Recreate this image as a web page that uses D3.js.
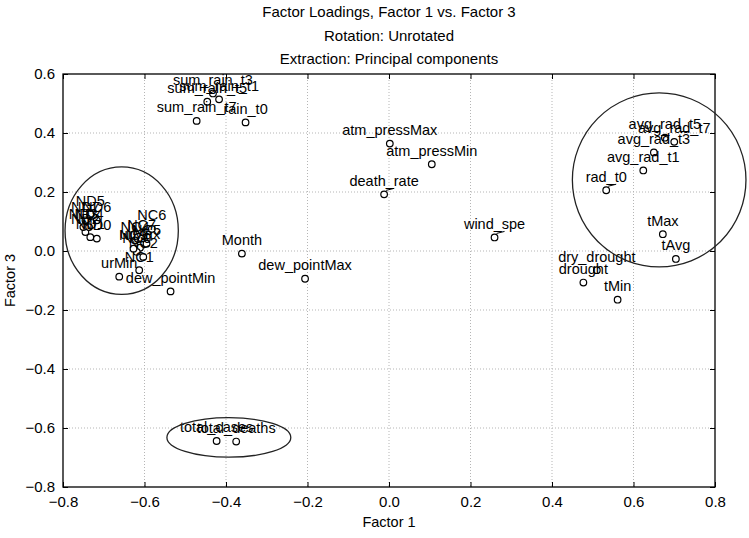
<!DOCTYPE html>
<html><head><meta charset="utf-8">
<script src="https://cdn.jsdelivr.net/npm/d3@7/dist/d3.min.js"></script>
<style>
body{margin:0;background:#fff}
text{font-family:"Liberation Sans",Arial,sans-serif;fill:#000}
</style>
</head><body>
<svg id="chart" width="749" height="538"></svg>
<script>
// ---- data ----
const titleLines = ["Factor Loadings, Factor 1 vs. Factor 3", "Rotation: Unrotated", "Extraction: Principal components"];
const xLabel = "Factor 1";
const yLabel = "Factor 3";
const xTicks = [-0.8, -0.6, -0.4, -0.2, 0.0, 0.2, 0.4, 0.6, 0.8];
const yTicks = [-0.8, -0.6, -0.4, -0.2, 0.0, 0.2, 0.4, 0.6];

const variables = [
  "atm_pressMax","atm_pressMin","death_rate","wind_spe","Month","dew_pointMax","dew_pointMin",
  "urMin","urMax","rain_t0","sum_rain_t7","sum_rain_t5","sum_rain_t1","sum_rain_t3",
  "avg_rad_t1","avg_rad_t3","avg_rad_t5","avg_rad_t7","rad_t0","tMax","tAvg","tMin",
  "drought","dry_drought","total_cases","total_deaths",
  "ND0","ND1","ND2","ND3","ND4","ND5","ND6","ND7",
  "NC0","NC1","NC2","NC3","NC4","NC5","NC6","NC7"
];
const factor1 = [
  0.002, 0.105, -0.012, 0.259, -0.361, -0.206, -0.536,
  -0.662, -0.611, -0.352, -0.472, -0.446, -0.417, -0.432,
  0.624, 0.650, 0.677, 0.700, 0.533, 0.672, 0.704, 0.561,
  0.477, 0.510, -0.423, -0.375,
  -0.717, -0.733, -0.745, -0.750, -0.736, -0.733, -0.717, -0.745,
  -0.619, -0.613, -0.603, -0.627, -0.623, -0.595, -0.582, -0.607
];
const factor3 = [
  0.364, 0.294, 0.192, 0.046, -0.009, -0.094, -0.137,
  -0.087, 0.011, 0.436, 0.441, 0.506, 0.514, 0.534,
  0.273, 0.334, 0.384, 0.370, 0.206, 0.057, -0.027, -0.165,
  -0.107, -0.065, -0.644, -0.646,
  0.042, 0.047, 0.064, 0.081, 0.081, 0.125, 0.104, 0.104,
  -0.003, -0.065, -0.020, 0.008, 0.036, 0.025, 0.075, 0.042
];
const leaderLabels = ["death_rate", "wind_spe", "rad_t0"];

// group ellipses (data units)
const ellipseCx = [-0.656, 0.663, -0.393];
const ellipseCy = [0.069, 0.241, -0.632];
const ellipseRx = [0.139, 0.213, 0.152];
const ellipseRy = [0.216, 0.295, 0.067];

// ---- drawing ----
const svg = d3.select("#chart");
const L = 63, R = 715, T = 74, B = 487;
const x = d3.scaleLinear().domain([-0.8, 0.8]).range([L, R]);
const y = d3.scaleLinear().domain([-0.8, 0.6]).range([B, T]);
const fmt = d3.format(".1f");

// titles
svg.selectAll(".title").data(titleLines).enter().append("text")
  .attr("x", (L + R) / 2).attr("y", (d, i) => 17 + i * 23.5)
  .attr("text-anchor", "middle").style("font-size", "15px").text(d => d);

// grid
const grid = svg.append("g");
grid.selectAll(".gx").data(xTicks.slice(1, -1)).enter().append("line")
  .attr("x1", d => x(d)).attr("x2", d => x(d)).attr("y1", T).attr("y2", B)
  .attr("stroke", "#b5b5b5").attr("stroke-width", 1).attr("stroke-dasharray", "1,2");
grid.selectAll(".gy").data(yTicks.slice(1, -1)).enter().append("line")
  .attr("y1", d => y(d)).attr("y2", d => y(d)).attr("x1", L).attr("x2", R)
  .attr("stroke", "#b5b5b5").attr("stroke-width", 1).attr("stroke-dasharray", "1,2");

// axes (inward ticks)
const ax = svg.append("g").attr("transform", `translate(0,${B})`)
  .call(d3.axisBottom(x).tickValues(xTicks).tickFormat(fmt).tickSize(-5).tickPadding(9));
const axT = svg.append("g").attr("transform", `translate(0,${T})`)
  .call(d3.axisTop(x).tickValues(xTicks).tickFormat("").tickSize(-5));
const ay = svg.append("g").attr("transform", `translate(${L},0)`)
  .call(d3.axisLeft(y).tickValues(yTicks).tickFormat(fmt).tickSize(-5).tickPadding(8));
const ayR = svg.append("g").attr("transform", `translate(${R},0)`)
  .call(d3.axisRight(y).tickValues(yTicks).tickFormat("").tickSize(-5));
[ax, axT, ay, ayR].forEach(g => {
  g.select(".domain").remove();
  g.selectAll("line").attr("stroke", "#000");
  g.selectAll("text").style("font-size", "15px").style("font-family", '"Liberation Sans",Arial,sans-serif').attr("fill", "#000");
});
svg.append("rect").attr("x", L).attr("y", T).attr("width", R - L).attr("height", B - T)
  .attr("fill", "none").attr("stroke", "#000").attr("stroke-width", 1.3);

// axis titles
svg.append("text").attr("x", (L + R) / 2).attr("y", 527).attr("text-anchor", "middle")
  .style("font-size", "14.5px").text(xLabel);
svg.append("text").attr("transform", `translate(15,${(T + B) / 2}) rotate(-90)`)
  .attr("text-anchor", "middle").style("font-size", "14.5px").text(yLabel);

// points
const pts = variables.map((n, i) => ({ name: n, f1: factor1[i], f3: factor3[i] }));
svg.append("g").selectAll("circle").data(pts).enter().append("circle")
  .attr("cx", d => x(d.f1)).attr("cy", d => y(d.f3)).attr("r", 3.3)
  .attr("fill", "#fff").attr("stroke", "#000").attr("stroke-width", 1.2);

// leader ticks
svg.append("g").selectAll("line").data(pts.filter(d => leaderLabels.includes(d.name))).enter().append("line")
  .attr("x1", d => x(d.f1) + 2).attr("y1", d => y(d.f3) - 4)
  .attr("x2", d => x(d.f1) + 10).attr("y2", d => y(d.f3) - 6)
  .attr("stroke", "#000").attr("stroke-width", 1);

// labels
svg.append("g").selectAll("text").data(pts).enter().append("text")
  .attr("x", d => x(d.f1)).attr("y", d => y(d.f3) - 8.5)
  .attr("text-anchor", "middle").style("font-size", "14.5px").text(d => d.name);

// ellipses
svg.append("g").selectAll("ellipse").data(ellipseCx).enter().append("ellipse")
  .attr("cx", d => x(d)).attr("cy", (d, i) => y(ellipseCy[i]))
  .attr("rx", (d, i) => x(ellipseRx[i]) - x(0)).attr("ry", (d, i) => y(0) - y(ellipseRy[i]))
  .attr("fill", "none").attr("stroke", "#222").attr("stroke-width", 1.3);
</script>
</body></html>
